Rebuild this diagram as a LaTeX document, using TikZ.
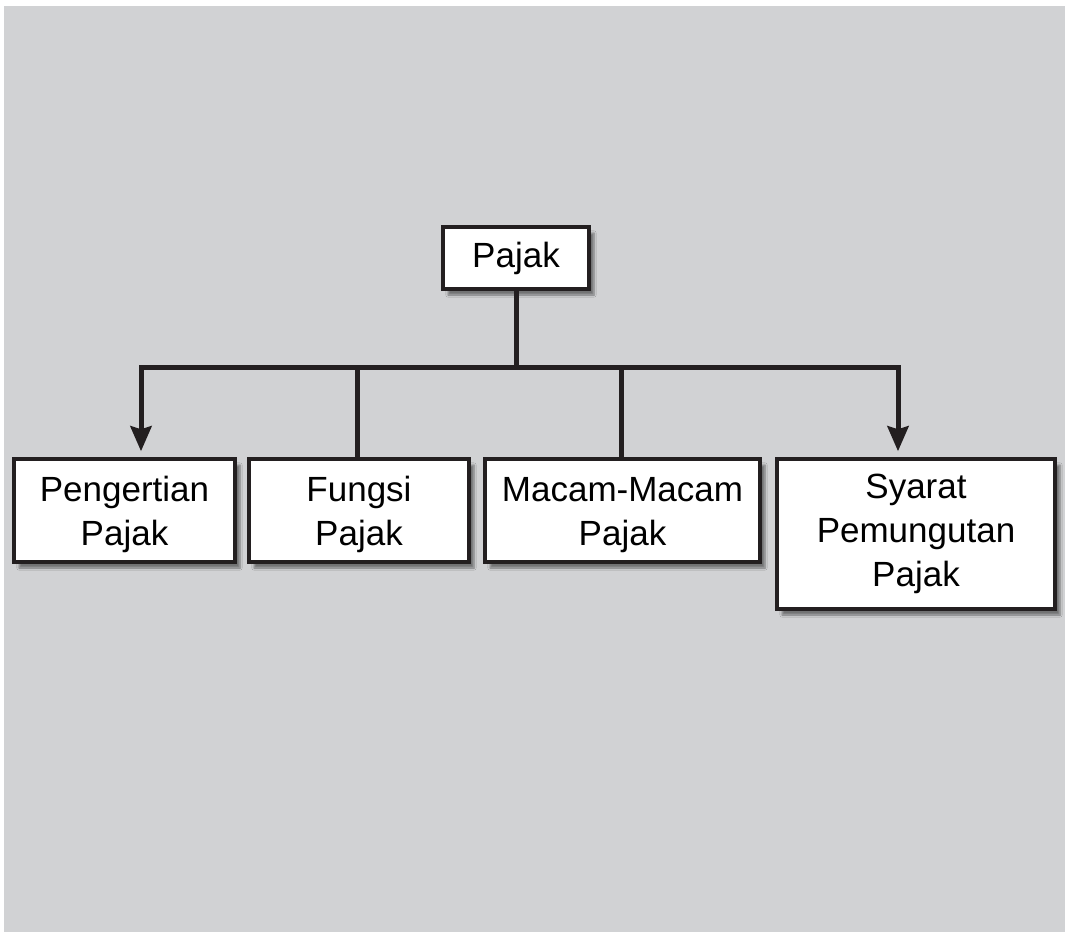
\documentclass[tikz,border=0pt]{standalone}
\usepackage{fontspec}
\setmainfont{Liberation Sans}
\usepackage{tikz}
\usetikzlibrary{positioning,arrows.meta,calc,shadows.blur}

\definecolor{bggray}{RGB}{209,210,212}
\definecolor{inkc}{RGB}{35,31,32}
\newcommand{\toppad}{\rule{0pt}{33pt}}

\begin{document}
\begin{tikzpicture}[
  x=1pt, y=-1pt,
  font=\fontsize{35}{44}\selectfont,
  box/.style={draw=inkc, line width=3.5pt, fill=white, align=center, inner sep=0pt,
    minimum width=#1, blur shadow={shadow xshift=5pt, shadow yshift=-6pt, shadow blur steps=6, shadow opacity=45}},
  box/.default=221pt,
  bus/.style={draw=inkc, line width=5pt},
  arr/.style={bus, -{Stealth[length=25pt, width=21pt, inset=3pt]}, shorten >=6pt}
]
% ---------------- background
\fill[white] (0,0) rectangle (1065,932);
\fill[bggray] (4,6) rectangle (1065,932);
% ---------------- top node
\node[box=146pt, minimum height=62pt] (pajak) at (516,258) {Pajak};
% ---------------- children
\node[box, minimum height=103pt] (peng) at (124.5,510.5) {\toppad Pengertian\\Pajak};
\node[box=220pt, minimum height=103pt] (fungsi) at (359,510.5) {\toppad Fungsi\\Pajak};
\node[box=275pt, minimum height=103pt] (macam) at (622.5,510.5) {\toppad Macam-Macam\\Pajak};
\node[box=278pt, minimum height=150pt] (syarat) at (916,534) {Syarat\\Pemungutan\\Pajak};
% ---------------- bus
\coordinate (busL) at (141,367);
\coordinate (busR) at (898,367);
\draw[bus] (pajak.south) -- (pajak.south |- busL);
\draw[arr, line join=miter] (pajak.south |- busL) -| (busL |- peng.north);
\draw[arr, line join=miter] (pajak.south |- busR) -| (busR |- syarat.north);
\draw[bus] (fungsi.north -| 357,0) -- (357,367);
\draw[bus] (macam.north -| 621,0) -- (621,367);
\end{tikzpicture}
\end{document}
